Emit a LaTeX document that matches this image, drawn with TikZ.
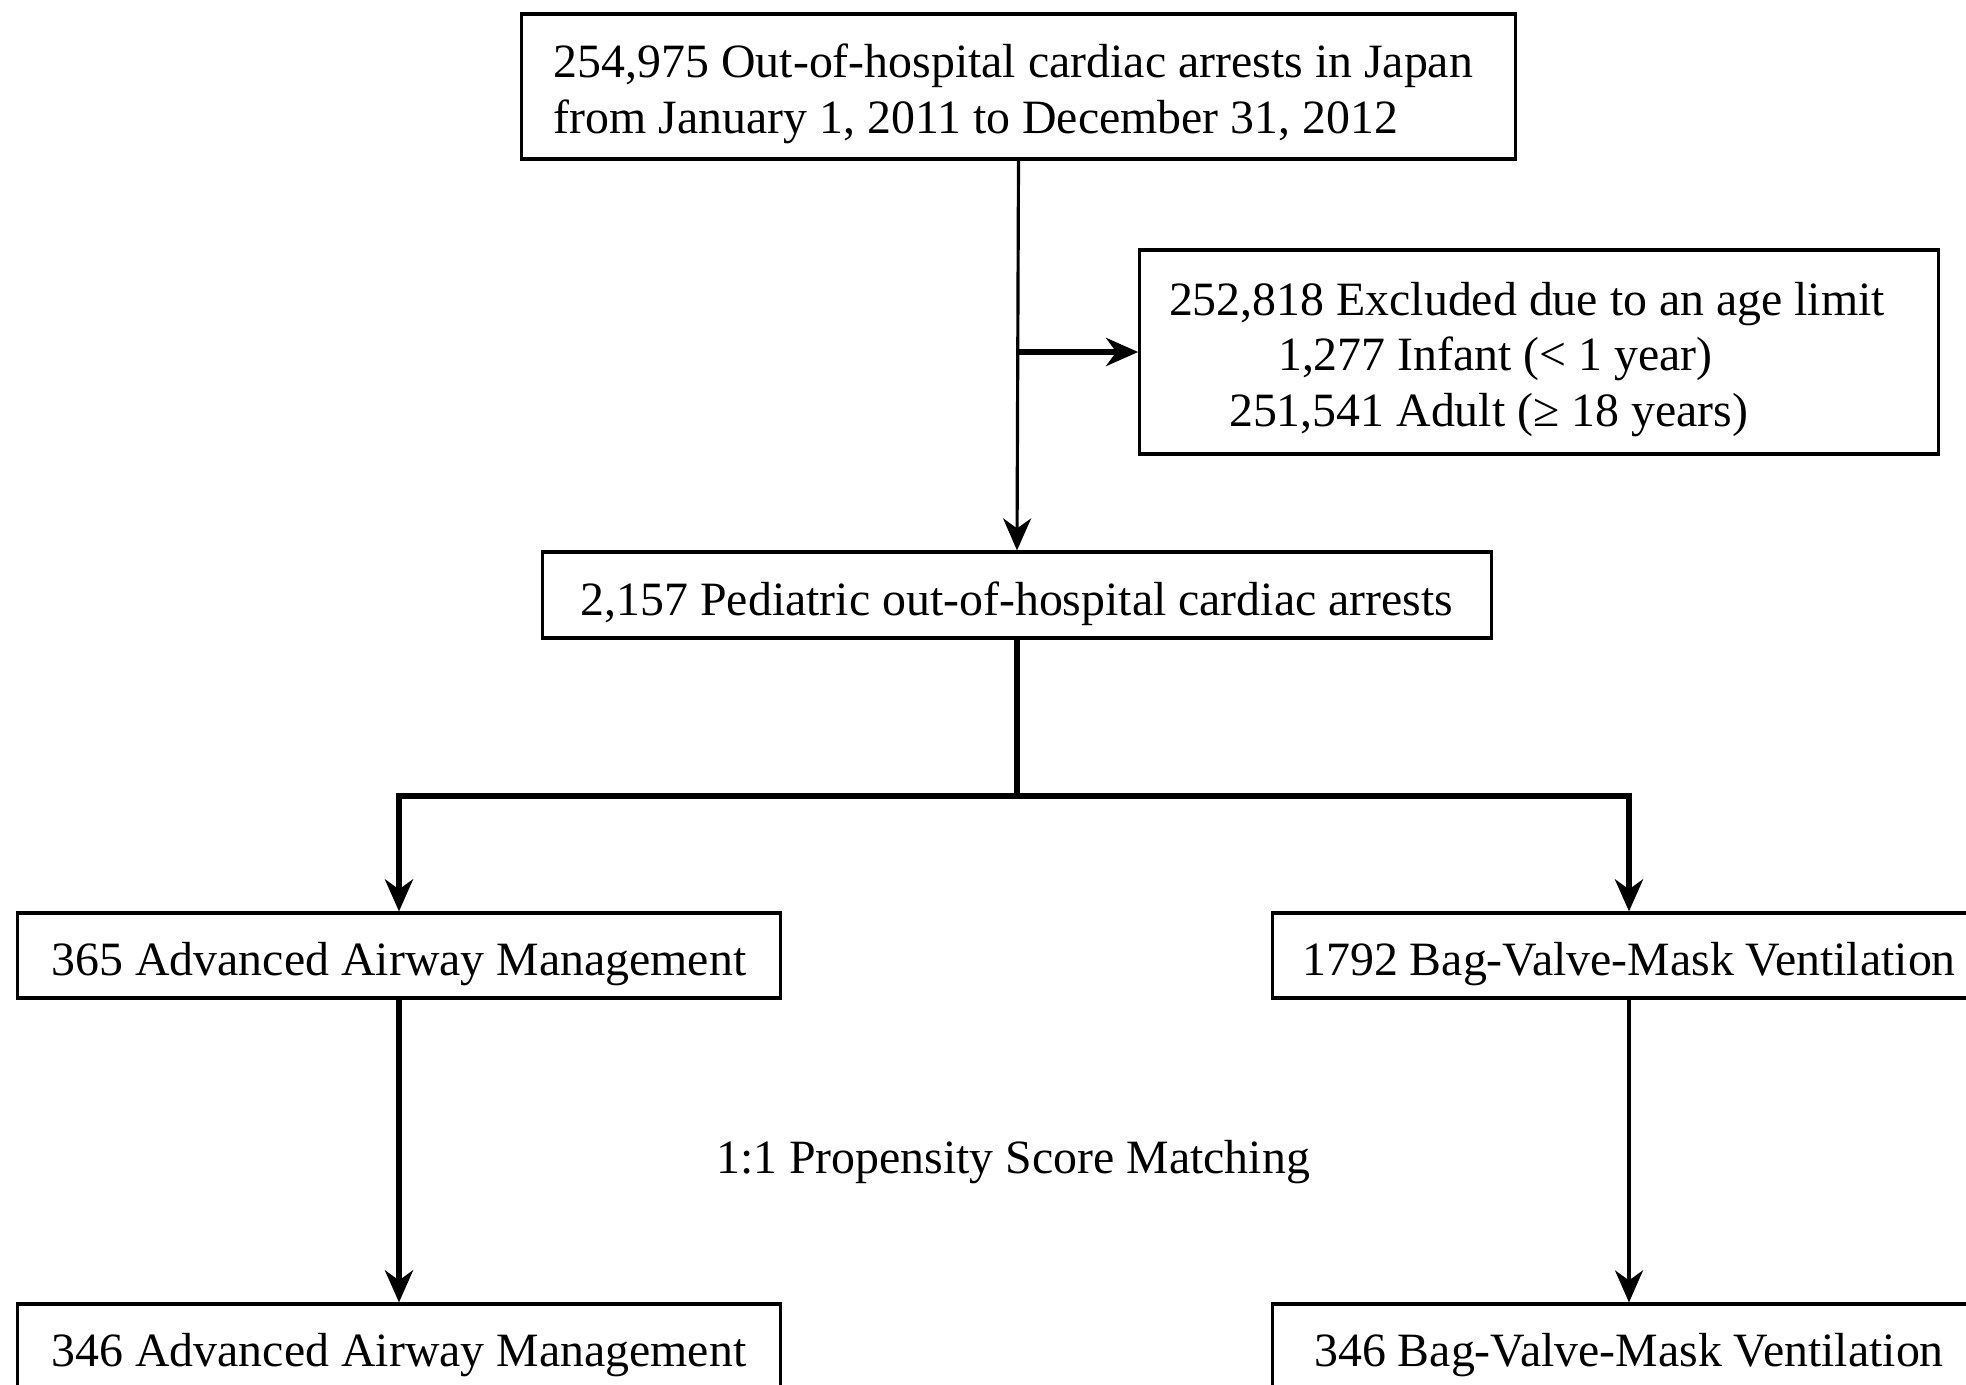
\documentclass[tikz,border=0pt]{standalone}
\usepackage{fontspec}
\setmainfont{Liberation Serif}
\usetikzlibrary{arrows.meta}
\newcommand{\toppad}{\rule{0pt}{1.0em}}

\begin{document}
\begin{tikzpicture}[x=0.01cm, y=-0.01cm,
		box/.style={rectangle, draw=black, line width=0.9pt, inner sep=0pt, font=\fontsize{13.6}{15.8}\selectfont, execute at begin node={\rule{0pt}{1.05em}}},
		tallbox/.style={rectangle, draw=black, line width=0.9pt, inner sep=0pt, font=\fontsize{13.6}{15.8}\selectfont, align=left},
		link/.style={line width=1.5pt, -{Stealth[length=0.32cm, width=0.28cm, inset=0.1cm]}}]
		\useasboundingbox (0,0) rectangle (1966,1384);
		\clip (0,0) rectangle (1966,1384);
		\def\xl{399}
		\def\xr{1629}
		\node[tallbox, minimum width=9.93cm, minimum height=1.45cm] (all) at (1018.5, 86.5) {\toppad 254,975 Out-of-hospital cardiac arrests in Japan\hspace*{0.1cm}\\from January 1, 2011 to December 31, 2012};
		\node[tallbox, minimum width=7.98cm, minimum height=2.04cm] (excl) at (1539, 352) {\toppad 252,818 Excluded due to an age limit\hspace*{0.24cm}\\\hspace*{1.09cm}1,277 Infant (< 1 year)\\\hspace*{0.6cm}251,541 Adult (≥ 18 years)};
		\node[box, minimum width=9.48cm, minimum height=0.86cm] (ped) at (1017, 595) {2,157 Pediatric out-of-hospital cardiac arrests};
		\node[box, minimum width=7.62cm, minimum height=0.85cm] (aam) at (\xl, 955.5) {365 Advanced Airway Management};
		\node[box, minimum width=7.12cm, minimum height=0.85cm] (bvm) at (\xr, 955.5) {1792 Bag-Valve-Mask Ventilation};
		\node[box, minimum width=7.62cm, minimum height=0.85cm] (aam2) at (\xl, 1346.5) {346 Advanced Airway Management};
		\node[box, minimum width=7.12cm, minimum height=0.85cm] (bvm2) at (\xr, 1346.5) {346 Bag-Valve-Mask Ventilation};
		\node[font=\fontsize{13.6}{15.8}\selectfont] (psm) at (1013, 1162) {1:1 Propensity Score Matching};
		\coordinate (e0) at (all.south |- excl.west);
		\coordinate (s0) at (1017, 796);
		\draw[link, line width=0.9pt] (all.south) -- (ped.north);
		\draw[link] (e0) -- (excl.west);
		\draw[line width=1.5pt] (ped.south) -- (s0);
		\draw[link] (s0) -| (aam.north);
		\draw[link] (s0) -| (bvm.north);
		\draw[link] (aam.south) -- (aam2.north);
		\draw[link, line width=0.9pt] (bvm.south) -- (bvm2.north);
	\end{tikzpicture}
\end{document}
